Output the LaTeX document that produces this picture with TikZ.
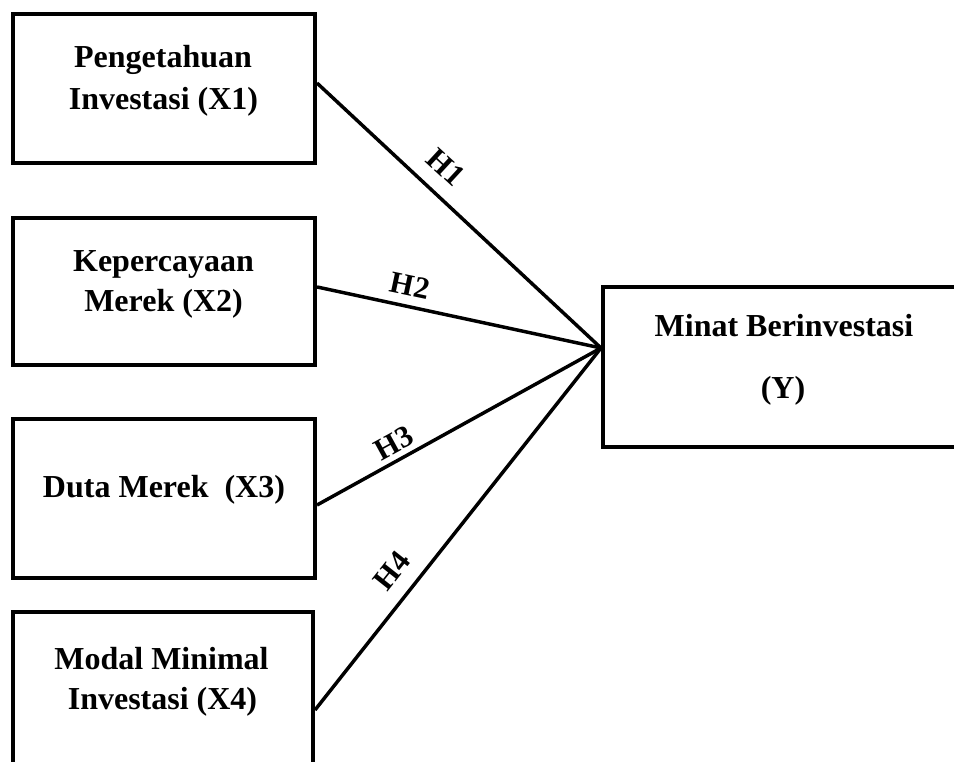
\documentclass[tikz,border=0pt]{standalone}
\usepackage{fontspec}
\setmainfont{Liberation Serif}
\begin{document}
\begin{tikzpicture}[x=0.75pt,y=-0.75pt,
  box/.style={draw, line width=3pt, inner sep=0pt},
  lbl/.style={font=\bfseries\fontsize{24}{28}\selectfont, anchor=base, inner sep=0pt},
  hyp/.style={font=\bfseries\fontsize{23}{27}\selectfont, inner sep=0pt},
  conn/.style={line width=2.6pt}]
\clip (0,0) rectangle (954,762);
\fill[white] (0,0) rectangle (954,762);
% boxes
\node[box, minimum width=226.5pt, minimum height=111.75pt] (x1) at (164,88.5) {};
\node[box, minimum width=226.5pt, minimum height=110.25pt] (x2) at (164,291.5) {};
\node[box, minimum width=226.5pt, minimum height=119.25pt] (x3) at (164,498.5) {};
\node[box, minimum width=225pt, minimum height=133.5pt] (x4) at (163,701) {};
\node[box, minimum width=282.75pt, minimum height=120pt] (y) at (791.5,367) {};
% texts
\node[lbl] (t1a) at (163,68) {Pengetahuan};
\node[lbl] (t1b) at (163.5,110) {Investasi (X1)};
\node[lbl] (t2a) at (163.5,272) {Kepercayaan};
\node[lbl] (t2b) at (163.5,312) {Merek (X2)};
\node[lbl] (t3) at (164,498) {Duta Merek~ (X3)};
\node[lbl] (t4a) at (161.5,670) {Modal Minimal};
\node[lbl] (t4b) at (162.5,710) {Investasi (X4)};
\node[lbl] (tya) at (784,337) {Minat Berinvestasi};
\node[lbl] (tyb) at (783,399) {(Y)};
% connectors
\coordinate (yin) at ([yshift=14.25pt]y.west);
\draw[conn] ([yshift=4.1pt]x1.east) -- (yin);
\draw[conn] ([yshift=3.4pt]x2.east) -- (yin);
\draw[conn] ([yshift=-4.9pt]x3.east) -- (yin);
\draw[conn] ([yshift=-6.75pt]x4.east) -- (yin);
% hypothesis labels
\node[hyp, rotate=-42.7] (h1) at (446,167) {H1};
\node[hyp, rotate=-12] (h2) at (410,286) {H2};
\node[hyp, rotate=28.7] (h3) at (394,443) {H3};
\node[hyp, rotate=51.6] (h4) at (392,571) {H4};
\end{tikzpicture}
\end{document}
